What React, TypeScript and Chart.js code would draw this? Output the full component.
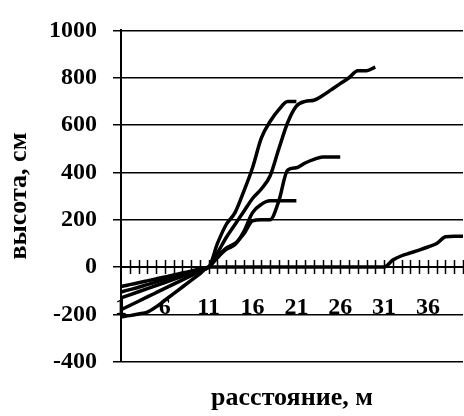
import { useEffect, useRef } from 'react';
import { Chart, registerables } from 'chart.js';

Chart.register(...registerables);

// distance along the transect, m
const distances = [
  '1', '2', '3', '4', '5', '6', '7', '8', '9', '10',
  '11', '12', '13', '14', '15', '16', '17', '18', '19', '20',
  '21', '22', '23', '24', '25', '26', '27', '28', '29', '30',
  '31', '32', '33', '34', '35', '36', '37', '38', '39', '40',
];

// height, cm — one array per profile
const profile1 = [
  -82, -74, -66, -58, -50, -42, -33, -25, -17, -8,
  0, 60, 125, 180, 235, 290, 330, 385, 500, 610,
  680, 700, 705, 725, 750, 775, 800, 830, 830, 845,
];
const profile2 = [
  -105, -95, -85, -74, -63, -52, -42, -31, -21, -10,
  0, 100, 180, 230, 320, 420, 545, 615, 665, 700,
  700,
];
const profile3 = [
  -130, -117, -104, -91, -78, -65, -52, -39, -26, -13,
  0, 45, 80, 100, 140, 195, 200, 200, 280, 410,
  420, 440, 455, 465, 465, 465,
];
const profile4 = [
  -180, -162, -144, -126, -108, -90, -72, -54, -36, -18,
  0, 40, 75, 95, 150, 230, 265, 280, 280, 280,
  280,
];
const profile5 = [
  -210, -205, -198, -190, -168, -140, -112, -84, -56, -28,
  0, 0, 0, 0, 0, 0, 0, 0, 0, 0,
  0, 0, 0, 0, 0, 0, 0, 0, 0, 0,
  0, 30, 48, 60, 72, 85, 100, 128, 130, 130,
];

const yTicks = [-400, -200, 0, 200, 400, 600, 800, 1000];
const labelEvery = 5;

const FONT_FAMILY = "'Liberation Serif', 'Times New Roman', serif";

// tick marks that cross the category axis at the zero line
const crossTicks = {
  id: 'crossTicks',
  beforeDatasetsDraw(chart: any) {
    const x = chart.scales.x;
    const y = chart.scales.y;
    const y0 = y.getPixelForValue(0);
    const ctx = chart.ctx;
    ctx.save();
    ctx.strokeStyle = '#000';
    ctx.lineWidth = 1.5;
    ctx.beginPath();
    for (let i = 1; i < distances.length; i++) {
      const px = Math.round(x.getPixelForValue(i)) + 0.5;
      ctx.moveTo(px, y0 - 7);
      ctx.lineTo(px, y0 + 7);
    }
    ctx.stroke();
    ctx.restore();
  },
};

export default function App() {
  const canvasRef = useRef<HTMLCanvasElement>(null);

  useEffect(() => {
    const line = (data: number[]) => ({
      data,
      borderColor: '#000',
      borderWidth: 3.5,
      pointRadius: 0,
      fill: false,
      cubicInterpolationMode: 'monotone' as const,
    });

    const chart = new Chart(canvasRef.current!, {
      type: 'line',
      data: {
        labels: distances,
        datasets: [line(profile1), line(profile2), line(profile3), line(profile4), line(profile5)],
      },
      plugins: [crossTicks],
      options: {
        animation: false,
        responsive: true,
        maintainAspectRatio: false,
        layout: { padding: { top: 23, right: 1, bottom: 0, left: 0 } },
        plugins: {
          legend: { display: false },
          tooltip: { enabled: false },
          title: {
            display: true,
            position: 'bottom',
            fullSize: false,
            text: 'расстояние, м',
            color: '#000',
            font: { family: FONT_FAMILY, size: 26, weight: 'bold' },
            padding: { top: 21, bottom: 2 },
          },
        },
        scales: {
          x: {
            type: 'category',
            position: { y: 0 },
            offset: false,
            grid: { display: false },
            border: { display: true, color: '#000', width: 2 },
            afterFit(scale: any) {
              scale.paddingLeft = 0;
              scale.paddingRight = 0;
            },
            ticks: {
              autoSkip: false,
              maxRotation: 0,
              color: '#000',
              padding: 18,
              font: { family: FONT_FAMILY, size: 24, weight: 'bold' },
              callback(value: any, index: number) {
                return index % labelEvery === 0 ? distances[index] : '';
              },
            },
          },
          y: {
            min: yTicks[0],
            max: yTicks[yTicks.length - 1],
            afterBuildTicks(scale: any) {
              scale.ticks = yTicks.map((v) => ({ value: v }));
            },
            afterFit(scale: any) {
              scale.width = 121;
            },
            grid: { color: '#000', lineWidth: 1.5, tickLength: 8 },
            border: { display: true, color: '#000', width: 2 },
            ticks: {
              color: '#000',
              padding: 16,
              font: { family: FONT_FAMILY, size: 24, weight: 'bold' },
              callback(value: any) {
                return String(value);
              },
            },
            title: {
              display: true,
              text: 'высота, см',
              color: '#000',
              font: { family: FONT_FAMILY, size: 26, weight: 'bold' },
              padding: { top: 4, bottom: 0 },
            },
          },
        },
      },
    });
    return () => chart.destroy();
  }, []);

  return (
    <div
      style={{
        position: 'fixed',
        left: 0,
        top: 0,
        width: 464,
        height: 416,
        background: '#fff',
      }}
    >
      <canvas ref={canvasRef} />
    </div>
  );
}
